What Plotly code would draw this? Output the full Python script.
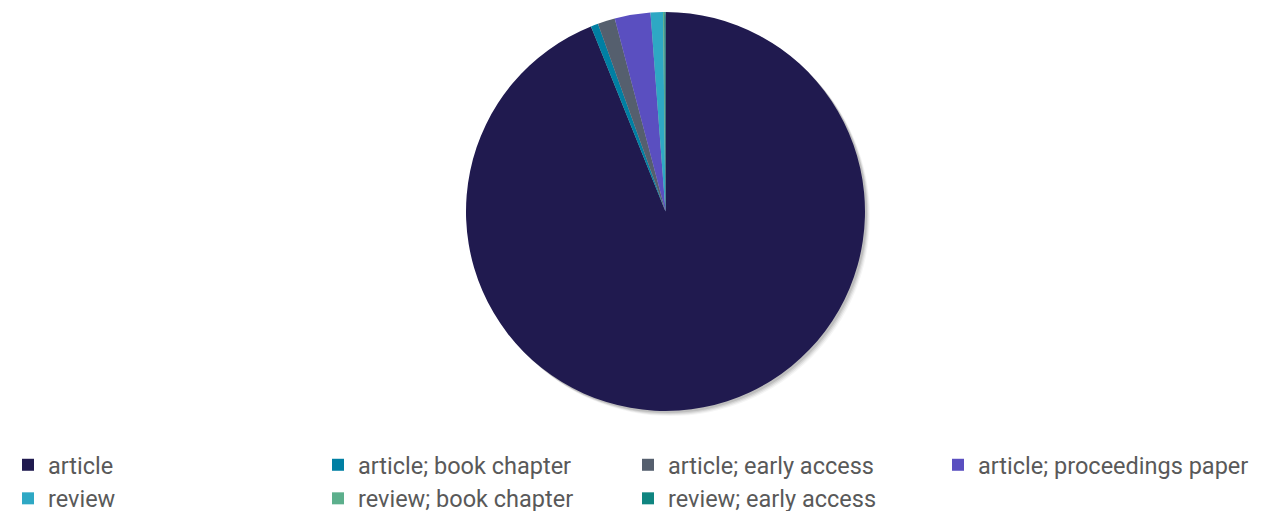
import plotly.graph_objects as go

categories = ["article", "article; book chapter", "article; early access",
              "article; proceedings paper", "review", "review; book chapter",
              "review; early access"]
values = [940, 6, 14, 29, 10, 1, 1]
colors = ["#201A4F", "#007FA3", "#555F6E", "#5A4FC0", "#2EA8C4", "#5CAF8C", "#0F8580"]

W = 1262
PH = 409  # plot area height in px
X0 = 53 / W  # left of pie domain
fig = go.Figure()
# soft shadow layers
for dx, op in [(5, 0.04), (4, 0.06), (3, 0.08), (2, 0.10)]:
    fig.add_trace(go.Pie(values=[1], labels=["shadow"], showlegend=False,
                         marker=dict(colors=[f"rgba(0,0,0,{op})"], line=dict(width=0)),
                         textinfo="none", hoverinfo="skip", sort=False,
                         domain=dict(x=[X0 + 2 * dx / W, 1], y=[(10 - dx) / PH, 1 - dx / PH])))
fig.add_trace(go.Pie(labels=categories, values=values, sort=False, direction="clockwise",
                     rotation=0, textinfo="none",
                     domain=dict(x=[X0, 1], y=[10 / PH, 1]),
                     marker=dict(colors=colors, line=dict(width=0))))
fig.update_layout(
    width=W, height=511,
    margin=dict(l=0, r=0, t=4, b=98),
    paper_bgcolor="white", plot_bgcolor="white",
    font=dict(family="Roboto", size=23.5, color="#595959"),
    legend=dict(orientation="h", xref="container", yref="container", x=0, y=1 - 435 / 511,
                xanchor="left", yanchor="top", entrywidth=310 / W, entrywidthmode="fraction",
                font=dict(family="Roboto", size=23.5, color="#595959"), traceorder="normal"),
)
fig.write_html("out.html")
